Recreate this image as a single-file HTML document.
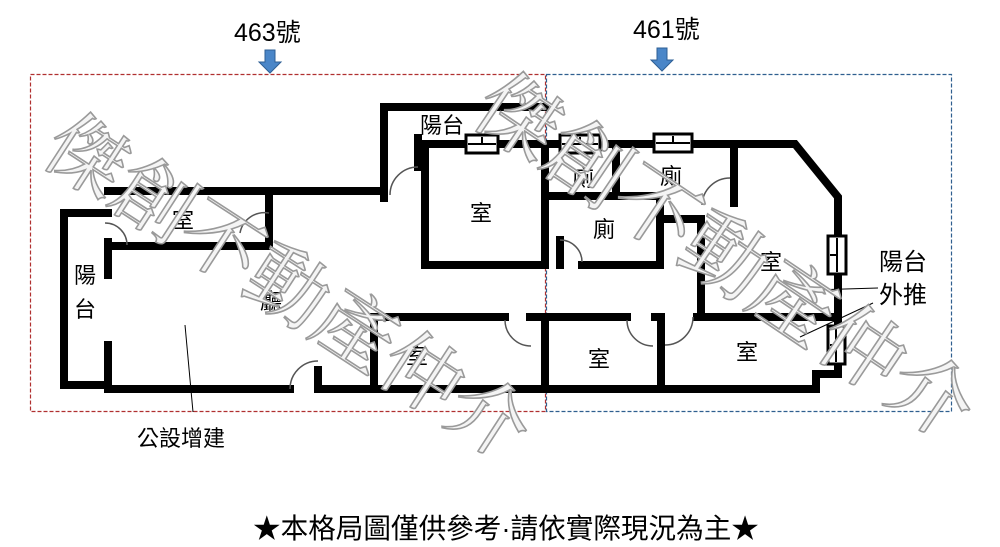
<!DOCTYPE html>
<html><head><meta charset="utf-8"><style>
html,body{margin:0;padding:0;background:#fff;}
svg{display:block;}
text{font-family:"Liberation Sans","Noto Sans CJK TC",sans-serif;fill:#000;}
.wm{font-family:"Noto Serif CJK SC","Noto Sans CJK TC",serif;fill:#f4f4f4;stroke:#9a9a9a;stroke-width:1.6;font-size:80px;}
</style></head><body>
<svg width="1000" height="547" viewBox="0 0 1000 547" xmlns="http://www.w3.org/2000/svg">
<rect x="30.5" y="74.5" width="515" height="337" fill="none" stroke="#b03030" stroke-width="1.2" stroke-dasharray="4,2"/>
<rect x="546.5" y="74.5" width="405" height="337" fill="none" stroke="#2f5f8f" stroke-width="1.2" stroke-dasharray="4,2"/>
<g fill="#4a86c8" stroke="#2e5f95" stroke-width="1">
<path d="M265,50 h10 v12 h6 l-11,11 l-11,-11 h6 z"/>
<path d="M657,48 h10 v12 h6 l-11,11 l-11,-11 h6 z"/>
</g>
<text x="234" y="41" font-size="25">463號</text>
<text x="633" y="38" font-size="25">461號</text>

<g fill="none" stroke="#000" stroke-width="8" stroke-linecap="square">
<path d="M108,213 H64 V385 H108"/>
<path d="M108,242 V275"/>
<path d="M108,345 V389"/>
<path d="M108,191 H384 V107 H545"/>
<path d="M108,246 H269 V197"/>
<path d="M108,389 H290"/>
<path d="M318,370 V389 H816 V374 H838"/>
<path d="M838,374 V197 L795,144 H425 V265 H545"/>
<path d="M384,181 V198"/>
<path d="M418,138 V167"/>
<path d="M374,389 V317 H505"/>
<path d="M530,317 H627"/>
<path d="M545,144 V265"/>
<path d="M545,320 V389"/>
<path d="M655,317 H661 V389"/>
<path d="M697,317 H838"/>
<path d="M545,196 H660 V265 H582"/>
<path d="M616,144 V196"/>
<path d="M560,265 V240"/>
<path d="M660,219 H701 V317"/>
<path d="M734,144 V203"/>
</g>
<g fill="none" stroke="#555" stroke-width="1.5">
<path d="M390,195 A28,28 0 0 1 418,167"/>
<path d="M105,223 A22,22 0 0 1 127,245"/>
<path d="M240,233 A25,25 0 0 1 269,213"/>
<path d="M290,389 A28,28 0 0 1 318,361"/>
<path d="M505,320 A26,26 0 0 0 531,346"/>
<path d="M627,320 A26,26 0 0 0 653,346"/>
<path d="M665,345 A28,28 0 0 0 693,317"/>
<path d="M560,240 A22,22 0 0 1 582,262"/>
<path d="M730,178 A28,28 0 0 0 702,205"/>
</g>
<g fill="#fff" stroke="#000" stroke-width="3">
<rect x="466" y="135" width="32" height="18"/>
<rect x="560" y="135" width="40" height="18"/>
<rect x="654" y="134" width="38" height="18"/>
<rect x="828" y="236" width="18" height="38"/>
<rect x="828" y="326" width="17" height="38"/>
</g>
<g stroke="#000" stroke-width="2">
<line x1="468" y1="144" x2="496" y2="144"/><line x1="482" y1="137" x2="482" y2="144"/>
<line x1="562" y1="144" x2="598" y2="144"/><line x1="580" y1="137" x2="580" y2="144"/>
<line x1="656" y1="143" x2="690" y2="143"/><line x1="673" y1="136" x2="673" y2="143"/>
<line x1="837" y1="238" x2="837" y2="272"/><line x1="830" y1="255" x2="837" y2="255"/>
<line x1="836" y1="328" x2="836" y2="362"/><line x1="830" y1="345" x2="836" y2="345"/>
</g>
<g stroke="#000" stroke-width="1" fill="none">
<line x1="185" y1="325" x2="193" y2="412"/>
<line x1="812" y1="290" x2="878" y2="288"/>
<line x1="800" y1="337" x2="873" y2="303"/>
</g>
<g font-size="22">
<text x="420" y="133">陽台</text>
<text x="470" y="221">室</text>
<text x="172" y="228">室</text>
<text x="74" y="283">陽</text>
<text x="74" y="317">台</text>
<text x="260" y="309">廳</text>
<text x="406" y="364">室</text>
<text x="572" y="186">廁</text>
<text x="660" y="184">廁</text>
<text x="593" y="237">廁</text>
<text x="760" y="270">室</text>
<text x="588" y="367">室</text>
<text x="736" y="360">室</text>
</g>
<text x="879" y="270" font-size="24">陽台</text>
<text x="879" y="303" font-size="24">外推</text>
<text x="137" y="446" font-size="22">公設增建</text>
<text x="253" y="538" font-size="27.6">★本格局圖僅供參考·請依實際現況為主★</text>

<text class="wm" transform="translate(38,158) rotate(33)">傑創不動產仲介</text>
<text class="wm" transform="translate(468,118) rotate(34)" style="font-size:83px">傑創不動產仲介</text>
</svg>
</body></html>
